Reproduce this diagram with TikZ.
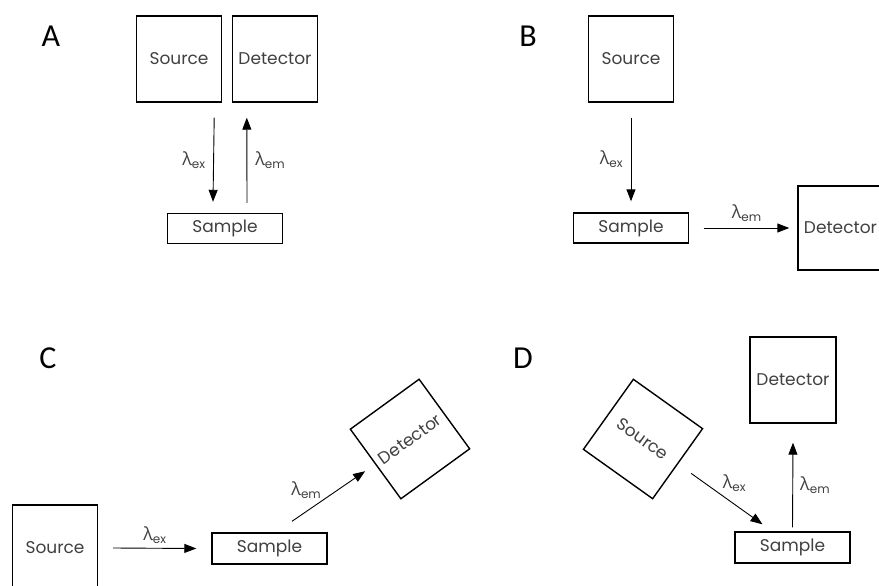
\documentclass[tikz,border=0pt]{standalone}
\usepackage{fontspec}
\setmainfont{Poppins}
\newfontfamily\grkfont{Open Sans}
\newfontfamily\panelfont{Carlito}
\usetikzlibrary{arrows.meta,calc}

\newcommand\lamsub[1]{{\grkfont\fontsize{18}{18}\selectfont λ}\raisebox{-3pt}{\fontsize{12}{12}\selectfont #1}}

\tikzset{
  box/.style={draw, line width=1.4pt, inner sep=0pt, text=black!75,
    font=\fontsize{17}{17}\selectfont},
  cube/.style={box, minimum width=85pt, minimum height=86pt},
  tray/.style={box, minimum width=115pt, minimum height=30pt},
  ray/.style={line width=0.9pt, -{Triangle[length=12pt,width=9pt]}},
  lam/.style={text=black!75, inner sep=1pt},
  panel/.style={font=\panelfont\fontsize{32}{32}\selectfont}
}

\begin{document}
\begin{tikzpicture}[x=1pt, y=-1pt]
  \useasboundingbox (0,0) rectangle (879,586);
  \begin{scope}
  \clip (0,0) rectangle (879,586);

  % A: source and detector side by side, both looking down at the sample.
  \node[panel] (la) at (51,36) {A};
  \node[cube] (srcA) at (179,59) {Source};
  \node[cube] (detA) at (275,59) {Detector};
  \node[tray] (smpA) at (225,228.5) {Sample};
  \draw[ray] ([xshift=-8pt,yshift=-15pt]srcA.south east)
    -- node[lam, midway, left=7pt] (exA) {\lamsub{ex}} ([xshift=-12pt,yshift=11pt]smpA.north);
  \draw[ray] ([xshift=22pt,yshift=10pt]smpA.north)
    -- node[lam, midway, right=7pt] (emA) {\lamsub{em}} ([xshift=15pt,yshift=-15pt]detA.south west);

  % B: detector off to the side, at right angles to the beam.
  \node[panel] (lb) at (528,36) {B};
  \node[cube] (srcB) at (631,59) {Source};
  \node[tray] (smpB) at (631,228) {Sample};
  \node[cube, minimum height=84pt] (detB) at (840.5,228) {Detector};
  \draw[ray] ([yshift=-15pt]srcB.south)
    -- node[lam, midway, left=7pt] (exB) {\lamsub{ex}} ([yshift=11pt]smpB.north);
  \draw[ray] ([xshift=14.5pt]smpB.east)
    -- node[lam, midway, above=5pt] (emB) {\lamsub{em}} ([xshift=-8pt]detB.west);

  % C: straight-through beam, detector tilted up and away.
  \node[panel] (lc) at (48,358) {C};
  \node[cube] (srcC) at (55,548) {Source};
  \node[tray, minimum height=31pt] (smpC) at (269.5,548.5) {Sample};
  \node[cube, rotate=36] (detC) at (410,439) {Detector};
  \draw[ray] ([xshift=15pt]srcC.east)
    -- node[lam, midway, above=3pt] (exC) {\lamsub{ex}} ([xshift=-15pt]smpC.west);
  \draw[ray, shorten >=12pt] ([xshift=22.5pt,yshift=11pt]smpC.north)
    -- node[lam, pos=0.17, above=12pt] (emC) {\lamsub{em}} (detC.west);

  % D: source tilted, detector straight above the sample.
  \node[panel] (ld) at (523,358) {D};
  \node[cube, minimum width=86pt] (detD) at (793,380) {Detector};
  \node[tray, minimum height=31pt] (smpD) at (792.5,547.5) {Sample};
  \node[cube, rotate=-35.5] (srcD) at (643,439) {Source};
  \draw[ray, shorten <=16pt] (srcD.east)
    -- node[lam, midway, above right=1pt] (exD) {\lamsub{ex}} ([xshift=-30pt,yshift=7pt]smpD.north);
  \draw[ray] ([yshift=4pt]smpD.north)
    -- node[lam, midway, right=6pt] (emD) {\lamsub{em}} ([yshift=-19pt]detD.south);
  \end{scope}
\end{tikzpicture}
\end{document}
